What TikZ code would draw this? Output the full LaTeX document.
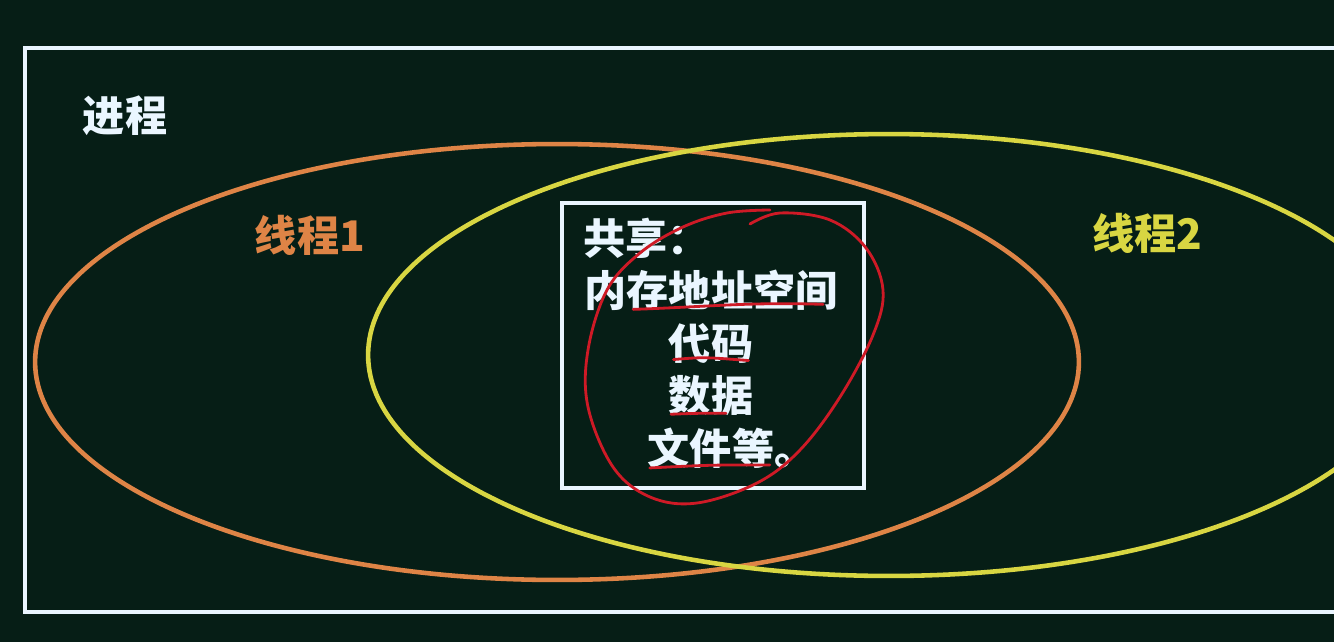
\documentclass[tikz,border=0pt]{standalone}
\usepackage{fontspec}
\newfontfamily\cjk{Noto Sans CJK SC}
\usetikzlibrary{shapes.geometric, positioning}
\definecolor{boardbg}{RGB}{6,30,22}
\definecolor{chalkwhite}{RGB}{234,246,255}
\definecolor{threadone}{RGB}{222,132,70}
\definecolor{threadtwo}{RGB}{216,214,66}
\definecolor{penred}{RGB}{206,26,38}
\tikzstyle{threadring} = [ellipse, line width=2.6pt, inner sep=0pt]
\tikzstyle{boardtext} = [font=\cjk\bfseries\fontsize{24}{29}\selectfont,
text=chalkwhite, inner sep=0pt, text height=0.68cm, text depth=0.1cm]
\tikzstyle{framebox} = [rectangle, draw=chalkwhite, inner sep=0pt]
\tikzstyle{inkline} = [draw=penred, line width=1.6pt, line cap=round, line join=round]

\begin{document}
\begin{tikzpicture}[x=0.02cm, y=-0.02cm, node distance=0.26cm]
    \clip (0,0) rectangle (1334,642);
    \fill[boardbg] (0,0) rectangle (1334,642);

    \node (proc)  [framebox, line width=2.4pt, minimum width=26.6cm, minimum height=11.28cm] at (690,330) {};
    \node (ring1) [threadring, draw=threadone, minimum width=20.88cm, minimum height=8.72cm] at (557,362) {};
    \node (ring2) [threadring, draw=threadtwo, minimum width=20.84cm, minimum height=8.84cm] at (889,355) {};
    \node (share) [framebox, line width=2.8pt, minimum width=6.04cm, minimum height=5.7cm] at (713,345.5) {};

    \node (proclbl) [boardtext] at (125,117) {进程};
    \node (t1lbl)   [boardtext, text=threadone] at (310,237) {线程1};
    \node (t2lbl)   [boardtext, text=threadtwo] at (1147,235) {线程2};

    \node (shared) [boardtext, anchor=west] at (583,240) {共享：};
    \node (mem)    [boardtext] at (711,292) {内存地址空间};
    \node (code)   [boardtext, below=of mem]  {代码};
    \node (data)   [boardtext, below=of code] {数据};
    \node (files)  [boardtext, below=of data, xshift=0.42cm] {文件等。};

    % red pen marks
    \draw[inkline] plot[smooth, tension=0.6] coordinates {(750,224) (780,213) (830,220) (866,248)
        (883,290) (873,335) (840,397) (800,450) (757,483) (697,503) (650,497) (613,467)
        (588,407) (588,350) (607,290) (640,253) (683,227) (727,213) (770,210)};
    \draw[inkline] (mem.south west) ++(0.98cm,0.05cm)
        .. controls ++(1.5cm,0.05cm) and ++(-1.5cm,0.05cm) .. ++(3.8cm,0.1cm);
    \draw[inkline] (code.south west) ++(0.1cm,0.1cm) .. controls ++(0.6cm,0.05cm) .. ++(1.5cm,-0.02cm);
    \draw[inkline] (data.south west) ++(0.05cm,0.06cm) .. controls ++(0.5cm,0.02cm) .. ++(1.1cm,0.02cm);
    \draw[inkline] (files.south west) ++(0.05cm,0.04cm) .. controls ++(1.2cm,0.06cm) .. ++(2.4cm,0.06cm);
\end{tikzpicture}
\end{document}
